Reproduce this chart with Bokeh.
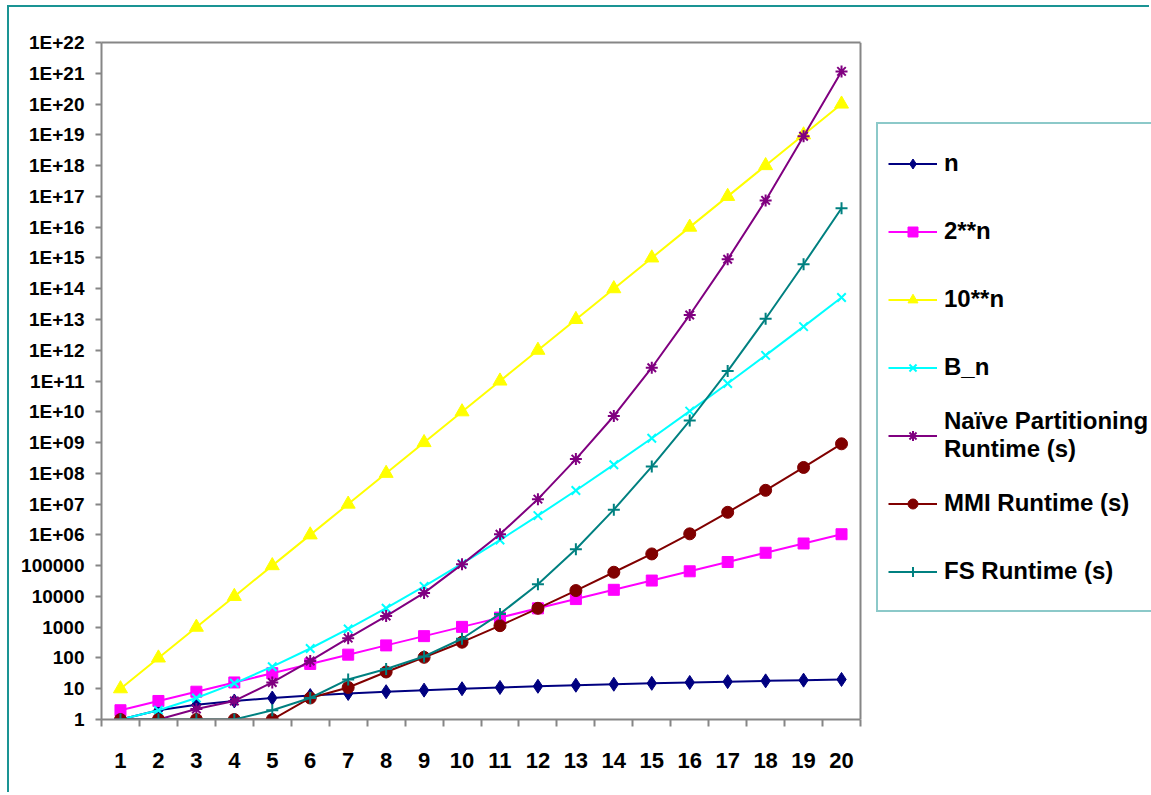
from bokeh.plotting import figure
from bokeh.models import (Range1d, FixedTicker, CustomJSTickFormatter, Legend,
                          LegendItem, LinearAxis, Span)
from bokeh.embed import file_html
from bokeh.resources import INLINE

# ---- data ----
x_vals = [1, 2, 3, 4, 5, 6, 7, 8, 9, 10, 11, 12, 13, 14, 15, 16, 17, 18, 19, 20]
n_vals = [1, 2, 3, 4, 5, 6, 7, 8, 9, 10, 11, 12, 13, 14, 15, 16, 17, 18, 19, 20]
pow2_vals = [2, 4, 8, 16, 32, 64, 128, 256, 512, 1024, 2048, 4096, 8192, 16384,
             32768, 65536, 131072, 262144, 524288, 1048576]
pow10_vals = [1e1, 1e2, 1e3, 1e4, 1e5, 1e6, 1e7, 1e8, 1e9, 1e10, 1e11, 1e12, 1e13,
              1e14, 1e15, 1e16, 1e17, 1e18, 1e19, 1e20]
bell_vals = [1, 2, 5, 15, 52, 203, 877, 4140, 21147, 115975, 678570, 4213597,
             27644437, 190899322, 1382958545, 10480142147, 82864869804,
             682076806159, 5832742205057, 51724158235372]
naive_vals = [1, 1, 2.2, 4, 16, 80, 440, 2300, 13000, 110000, 1.05e6, 1.45e7,
              2.9e8, 7.3e9, 2.7e11, 1.4e13, 9e14, 7.4e16, 9e18, 1.15e21]
mmi_vals = [1, 1, 1, 1, 1, 5, 11, 35, 105, 325, 1120, 4100, 15500, 61000, 240000,
            1.08e6, 5.4e6, 2.8e7, 1.55e8, 9.1e8]
fs_vals = [1, 1, 1, 1, 2, 5, 20, 44, 112, 420, 2700, 25000, 340000, 6.6e6, 1.66e8,
           5.2e9, 2.1e11, 1.05e13, 6.2e14, 4.1e16]

series_names = ["n", "2**n", "10**n", "B_n", "Na\u00efve Partitioning\nRuntime (s)",
                "MMI Runtime (s)", "FS Runtime (s)"]

y_ticks = [1e0, 1e1, 1e2, 1e3, 1e4, 1e5, 1e6, 1e7, 1e8, 1e9, 1e10, 1e11, 1e12,
           1e13, 1e14, 1e15, 1e16, 1e17, 1e18, 1e19, 1e20, 1e21, 1e22]
y_tick_labels = ["1", "10", "100", "1000", "10000", "100000", "1E+06", "1E+07",
                 "1E+08", "1E+09", "1E+10", "1E+11", "1E+12", "1E+13", "1E+14",
                 "1E+15", "1E+16", "1E+17", "1E+18", "1E+19", "1E+20", "1E+21",
                 "1E+22"]

FONT = "Liberation Sans"
AXIS_GRAY = "#868686"
TEAL_BORDER = "#1a9494"

# layout (pixels)
W, H = 1142, 787
LEFT, TOP, BOTTOM = 92, 35, 75
PLOT_W = 759            # visible plot box width
FRAME_W = W - LEFT      # frame extends under the legend
X0, X1 = 0.5, 20.5
x_end = X0 + FRAME_W * (X1 - X0) / PLOT_W

p = figure(width=W, height=H,
           x_range=Range1d(X0, x_end), y_range=Range1d(1, 1e22),
           y_axis_type="log", output_backend="svg", toolbar_location=None,
           min_border_left=LEFT, min_border_top=TOP, min_border_bottom=BOTTOM,
           min_border_right=0)
p.styles = {"border-left": "2px solid " + TEAL_BORDER,
            "border-top": "2px solid " + TEAL_BORDER,
            "margin-left": "7px", "margin-top": "5px"}

p.grid.visible = False
p.outline_line_color = None

# y axis
p.yaxis.ticker = FixedTicker(ticks=y_ticks)
p.yaxis.formatter = CustomJSTickFormatter(args=dict(labels=y_tick_labels),
                                          code="return labels[Math.round(Math.log10(tick))];")
p.yaxis.axis_line_color = AXIS_GRAY
p.yaxis.axis_line_width = 2
p.yaxis.major_tick_line_color = AXIS_GRAY
p.yaxis.major_tick_line_width = 2
p.yaxis.major_tick_out = 6
p.yaxis.major_tick_in = 0
p.yaxis.minor_tick_line_color = None
p.yaxis.major_label_standoff = 11
p.yaxis.major_label_text_font_size = "19px"

# x axis
p.xaxis.ticker = FixedTicker(ticks=x_vals, minor_ticks=[i + 0.5 for i in range(0, 21)])
p.xaxis.bounds = (X0, X1)
p.xaxis.axis_line_color = AXIS_GRAY
p.xaxis.axis_line_width = 2
p.xaxis.major_tick_line_color = None
p.xaxis.major_tick_out = 0
p.xaxis.major_tick_in = 0
p.xaxis.minor_tick_line_color = AXIS_GRAY
p.xaxis.minor_tick_line_width = 2
p.xaxis.minor_tick_out = 7
p.xaxis.minor_tick_in = 0
p.xaxis.major_label_standoff = 26
p.xaxis.major_label_text_font_size = "22px"

for ax in (p.xaxis, p.yaxis):
    ax.major_label_text_font = FONT
    ax.major_label_text_font_style = "bold"
    ax.major_label_text_color = "black"

# top and right edges of the plot box
top_axis = LinearAxis(ticker=FixedTicker(ticks=[]), bounds=(X0, X1),
                      axis_line_color=AXIS_GRAY, axis_line_width=2,
                      major_tick_line_color=None, minor_tick_line_color=None)
p.add_layout(top_axis, "above")
p.add_layout(Span(location=X1, dimension="height", line_color=AXIS_GRAY, line_width=2))

styles = [
    ("#000080", "diamond", 14, n_vals, 2),
    ("#FF00FF", "square", 11, pow2_vals, 2),
    ("#FFFF00", "triangle", 14, pow10_vals, 2),
    ("#00FFFF", "x", 12, bell_vals, 2),
    ("#800080", "asterisk", 12, naive_vals, 2),
    ("#800000", "circle", 12, mmi_vals, 2),
    ("#008080", "cross", 12, fs_vals, 2),
]

items = []
for name, (color, marker, size, vals, lw) in zip(series_names, styles):
    r1 = p.line(x_vals, vals, line_color=color, line_width=lw)
    if marker in ("x", "asterisk", "cross"):
        r2 = p.scatter(x_vals, vals, marker=marker, size=size, line_color=color,
                       line_width=2, fill_color=color)
    else:
        r2 = p.scatter(x_vals, vals, marker=marker, size=size, line_color=color,
                       fill_color=color)
    items.append(LegendItem(label=name, renderers=[r1, r2]))

legend = Legend(items=items, location=(PLOT_W + 16, 107))
legend.border_line_color = TEAL_BORDER
legend.border_line_width = 2
legend.background_fill_color = "white"
legend.background_fill_alpha = 1
legend.label_text_font = FONT
legend.label_text_font_style = "bold"
legend.label_text_font_size = "24px"
legend.label_text_color = "black"
legend.glyph_width = 49
legend.glyph_height = 25
legend.label_height = 58
legend.spacing = 10
legend.padding = 10
legend.label_standoff = 7
legend.margin = 0
p.add_layout(legend)

open("out.html", "w").write(file_html(p, INLINE))
